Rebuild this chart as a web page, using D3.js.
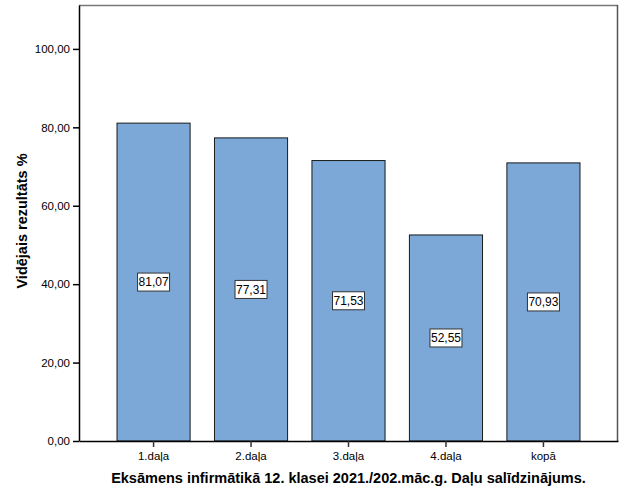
<!DOCTYPE html>
<html><head><meta charset="utf-8">
<script src="https://cdn.jsdelivr.net/npm/d3@7"></script>
<style>body{margin:0;background:#fff}</style>
</head><body>
<script>
const categories = ["1.daļa","2.daļa","3.daļa","4.daļa","kopā"];
const values = [81.07, 77.31, 71.53, 52.55, 70.93];
const yTicks = [0,20,40,60,80,100];
const yTitle = "Vidējais rezultāts %";
const xTitle = "Eksāmens infirmātikā 12. klasei 2021./202.māc.g. Daļu salīdzinājums.";

const W = 625, H = 500;
const L = 79, R = 618, T = 5, B = 441;
const fmt = v => v.toFixed(2).replace(".", ",");

const svg = d3.select("body").append("svg").attr("width", W).attr("height", H)
  .style("font-family", "Arial, 'Liberation Sans', sans-serif");

const x = d3.scaleBand().domain(categories).range([L, R]).paddingInner(0.25).paddingOuter(0.39);
const y = d3.scaleLinear().domain([0, 111.2]).range([B, T]);

// frame
svg.append("line").attr("x1", L).attr("x2", R).attr("y1", T+0.5).attr("y2", T+0.5).attr("stroke", "#777").attr("stroke-width", 1.5);
svg.append("line").attr("x1", R-0.5).attr("x2", R-0.5).attr("y1", T).attr("y2", B).attr("stroke", "#555").attr("stroke-width", 1.5);

// bars
svg.selectAll("rect.bar").data(values).join("rect").attr("class", "bar")
  .attr("x", (d, i) => x(categories[i]))
  .attr("y", d => y(d))
  .attr("width", x.bandwidth())
  .attr("height", d => B - y(d))
  .attr("fill", "#7ba8d6").attr("stroke", "#1a1a1a").attr("stroke-width", 1);

// labels
const lg = svg.selectAll("g.lab").data(values).join("g").attr("class", "lab")
  .attr("transform", (d, i) => `translate(${x(categories[i]) + x.bandwidth()/2},${(y(d) + B)/2})`);
lg.append("rect").attr("x", -16).attr("y", -9).attr("width", 32).attr("height", 18)
  .attr("fill", "#fff").attr("stroke", "#333").attr("stroke-width", 1);
lg.append("text").attr("text-anchor", "middle").attr("dy", "0.35em").attr("font-size", 12)
  .attr("fill", "#000").text(d => fmt(d));

// axes
const ya = svg.append("g").attr("transform", `translate(${L},0)`)
  .call(d3.axisLeft(y).tickValues(yTicks).tickSize(6).tickSizeOuter(0).tickFormat(fmt));
ya.select(".domain").attr("stroke", "#000").attr("stroke-width", 1.5);
ya.selectAll("text").attr("font-size", 11.5).attr("font-family", "Arial, 'Liberation Sans', sans-serif").attr("fill", "#000");
ya.selectAll(".tick line").attr("stroke", "#000").attr("stroke-width", 1.5);

const xa = svg.append("g").attr("transform", `translate(0,${B})`)
  .call(d3.axisBottom(x).tickSize(6).tickSizeOuter(0));
xa.select(".domain").attr("stroke", "#000").attr("stroke-width", 1.5);
xa.selectAll("text").attr("font-size", 11.5).attr("font-family", "Arial, 'Liberation Sans', sans-serif").attr("fill", "#000").attr("dy", "0.9em");
xa.selectAll(".tick line").attr("stroke", "#333").attr("stroke-width", 1.5);

// titles
svg.append("text").attr("x", (L + R)/2).attr("y", 483).attr("text-anchor", "middle")
  .attr("font-size", 14.5).attr("font-weight", "bold").text(xTitle);
svg.append("text").attr("transform", `translate(27,221) rotate(-90)`).attr("text-anchor", "middle")
  .attr("font-size", 14.5).attr("font-weight", "bold").text(yTitle);
</script>
</body></html>
